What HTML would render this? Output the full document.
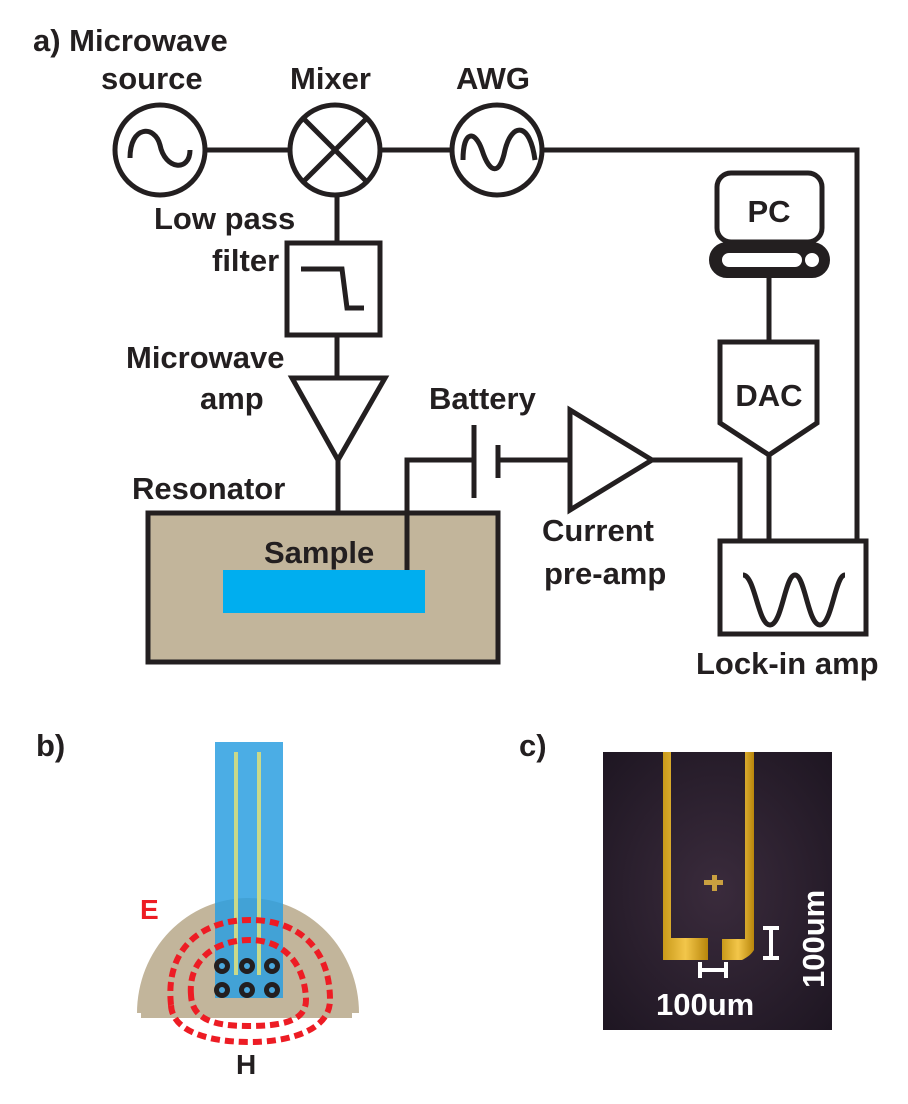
<!DOCTYPE html>
<html><head><meta charset="utf-8"><style>
body{margin:0;background:#fff}
text{font-family:"Liberation Sans",sans-serif;font-weight:bold;fill:#231f20}
</style></head><body>
<svg width="908" height="1099" viewBox="0 0 908 1099" xmlns="http://www.w3.org/2000/svg">
<defs>
<radialGradient id="bg" cx="50%" cy="50%" r="70%"><stop offset="0" stop-color="#3a2b3c"/><stop offset="1" stop-color="#1e1622"/></radialGradient>
<linearGradient id="gold" x1="0" x2="1"><stop offset="0" stop-color="#c99a1a"/><stop offset="0.5" stop-color="#f3c64a"/><stop offset="1" stop-color="#b8860b"/></linearGradient>
</defs>
<g stroke="#231f20" stroke-width="5" fill="none">
<line x1="205" y1="150" x2="290" y2="150"/>
<line x1="380" y1="150" x2="452" y2="150"/>
<polyline points="543,150 857,150 857,541"/>
<circle cx="160" cy="150" r="45"/>
<path d="M130,158 C130,125 155,125 160,145 C165,170 190,172 190,150"/>
<circle cx="335" cy="150" r="45"/>
<line x1="303" y1="118" x2="367" y2="182"/><line x1="367" y1="118" x2="303" y2="182"/>
<circle cx="497" cy="150" r="45"/>
<path d="M463,160 C463,130 475,130 482,150 C490,175 500,175 505,150 C512,122 530,122 535,160"/>
<line x1="337" y1="195" x2="337" y2="243"/>
<rect x="287" y="243" width="93" height="92"/>
<polyline points="301,269 342,269 347,308 364,308"/>
<line x1="337" y1="335" x2="337" y2="378"/>
<polygon points="292,378 385,378 338,460"/>
<line x1="338" y1="460" x2="338" y2="513"/>
<rect x="148" y="513" width="350" height="149" fill="#c2b59b"/>
<polyline points="407,572 407,460 474,460"/>
<line x1="474" y1="425" x2="474" y2="498"/>
<line x1="498" y1="445" x2="498" y2="478"/>
<line x1="498" y1="460" x2="570" y2="460"/>
<polygon points="570,410 570,510 652,460"/>
<polyline points="652,460 740,460 740,541"/>
<rect x="717" y="173" width="105" height="69" rx="14"/>
<rect x="712" y="245" width="115" height="30" rx="15" stroke-width="6"/>
<line x1="769" y1="278" x2="769" y2="342"/>
<polygon points="720,342 817,342 817,423 769,455 720,423"/>
<line x1="769" y1="455" x2="769" y2="541"/>
<rect x="720" y="541" width="146" height="93"/>
<path d="M743,575 C755,575 758,625 770,625 C782,625 785,575 795,575 C805,575 808,625 820,625 C832,625 835,575 845,575"/>
</g>
<rect x="712" y="245" width="115" height="30" rx="15" fill="#231f20"/>
<rect x="722" y="253" width="80" height="14" rx="7" fill="#fff"/>
<circle cx="812" cy="260" r="7" fill="#fff"/>
<rect x="223" y="570" width="202" height="43" fill="#00aeef"/>
<g font-size="31">
<text x="33" y="51">a) Microwave</text>
<text x="101" y="89">source</text>
<text x="290" y="89">Mixer</text>
<text x="456" y="89">AWG</text>
<text x="154" y="229">Low pass</text>
<text x="212" y="271">filter</text>
<text x="126" y="368">Microwave</text>
<text x="200" y="409">amp</text>
<text x="429" y="409">Battery</text>
<text x="132" y="499">Resonator</text>
<text x="264" y="563">Sample</text>
<text x="542" y="541">Current</text>
<text x="544" y="584">pre-amp</text>
<text x="696" y="674">Lock-in amp</text>
<text x="769" y="222" text-anchor="middle">PC</text>
<text x="769" y="406" text-anchor="middle">DAC</text>
<text x="36" y="756">b)</text>
<text x="519" y="756">c)</text>
</g>
<!-- b -->
<path d="M137,1013 A111,115 0 0 1 359,1013 L352,1013 L352,1018 L141,1018 L141,1013 Z" fill="#c2b59b"/>
<rect x="215" y="742" width="68" height="256" fill="#2b9fe0" opacity="0.85"/>
<line x1="236" y1="752" x2="236" y2="975" stroke="#c9d98a" stroke-width="4"/>
<line x1="259" y1="752" x2="259" y2="975" stroke="#c9d98a" stroke-width="4"/>
<g fill="#231f20">
<circle cx="222" cy="966" r="8"/><circle cx="247" cy="966" r="8"/><circle cx="272" cy="966" r="8"/>
<circle cx="222" cy="990" r="8"/><circle cx="247" cy="990" r="8"/><circle cx="272" cy="990" r="8"/>
</g>
<g fill="#4aa8dd">
<circle cx="222" cy="966" r="3"/><circle cx="247" cy="966" r="3"/><circle cx="272" cy="966" r="3"/>
<circle cx="222" cy="990" r="3"/><circle cx="247" cy="990" r="3"/><circle cx="272" cy="990" r="3"/>
</g>
<g fill="none" stroke="#ed1c24" stroke-width="6" stroke-dasharray="9,5">
<path d="M171,1005 C165,950 200,920 250,920 C300,920 330,950 330,1000 C330,1030 290,1042 250,1042 C205,1042 172,1030 171,1005Z"/>
<path d="M191,995 C188,960 215,940 250,940 C285,940 305,965 306,1000 C306,1022 280,1026 248,1026 C215,1026 192,1020 191,995Z"/>
</g>
<text x="140" y="919" font-size="28" style="fill:#ed1c24">E</text>
<text x="236" y="1074" font-size="28">H</text>
<!-- c -->
<rect x="603" y="752" width="229" height="278" fill="url(#bg)"/>
<path d="M663,752 h8 v186 h37 v22 h-45 Z" fill="url(#gold)"/>
<path d="M745,752 h9 v198 c-3,5 -8,8 -12,10 h-20 v-21 h23 Z" fill="url(#gold)"/>
<path d="M704,880 h8 v-5 h5 v5 h6 v5 h-6 v6 h-5 v-6 h-8z" fill="#c9a040"/>
<g stroke="#fff" stroke-width="4" fill="none">
<line x1="700" y1="970" x2="726" y2="970"/><line x1="700" y1="962" x2="700" y2="978"/><line x1="726" y1="962" x2="726" y2="978"/>
<line x1="771" y1="928" x2="771" y2="958"/><line x1="763" y1="928" x2="779" y2="928"/><line x1="763" y1="958" x2="779" y2="958"/>
</g>
<text x="656" y="1015" font-size="31" style="fill:#fff">100um</text>
<text transform="translate(824,988) rotate(-90)" font-size="31" style="fill:#fff">100um</text>
</svg>
</body></html>
